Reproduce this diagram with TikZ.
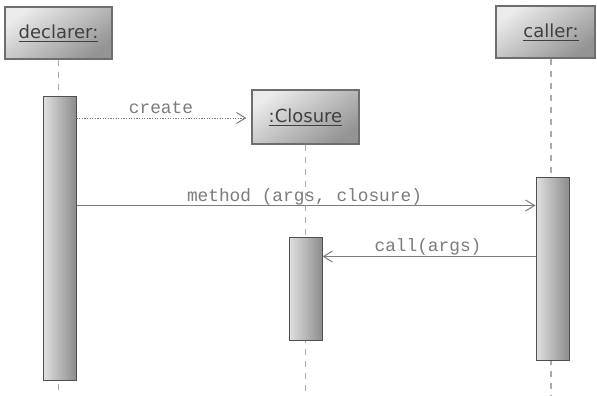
\documentclass[tikz,border=0pt]{standalone}
\usepackage{fontspec}
\setmainfont{DejaVu Sans}
\newfontfamily\msgfont{Liberation Mono}
\usetikzlibrary{arrows.meta}
\definecolor{boxline}{HTML}{6E6E6E}
\definecolor{barline}{HTML}{505050}
\definecolor{lifecol}{HTML}{ABABAB}
\definecolor{msgcol}{HTML}{7C7C7C}
\definecolor{txtcol}{HTML}{404040}
\newcommand{\myul}[1]{\setbox0\hbox{#1}\rlap{\rule[-3.5pt]{\wd0}{1pt}}\box0}
\tikzset{
  objbox/.style={draw=boxline, line width=1.2pt, top color=white!92!black, bottom color=white!58!black,
    shading angle=35, minimum width=107pt, minimum height=52pt, inner sep=0pt,
    font=\fontsize{18}{20}\selectfont, text=txtcol},
  actbar/.style={draw=barline, line width=1pt, left color=white!88!black, right color=white!55!black,
    minimum width=33pt, inner sep=0pt},
  lifeline/.style={draw=lifecol, line width=1.6pt, dash pattern=on 6pt off 6pt},
  msg/.style={draw=msgcol, line width=1pt, -{Straight Barb[length=9pt,width=11pt,line width=1pt]}},
  msglabel/.style={font=\msgfont\fontsize{17.8}{20}\selectfont, text=msgcol, anchor=base, inner sep=0pt}
}
\begin{document}
\begin{tikzpicture}[x=1pt,y=-1pt]
\useasboundingbox[fill=white] (0,0) rectangle (597,396);
% lifeline ends
\coordinate (dend) at (58.5,396);
\coordinate (cend) at (305.5,396);
\coordinate (kend) at (551,396);
% object boxes
\node[objbox] (decl) at (58.5,33) {\myul{declarer:}};
\node[objbox, minimum height=54pt] (clos) at (305.5,117) {\myul{:Closure}};
\node[objbox, minimum width=99pt] (call) at (545.5,32) {\hspace*{11pt}\myul{caller:}};
% lifelines
\draw[lifeline] (decl.south) -- (dend);
\draw[lifeline] (clos.south) -- (cend);
\draw[lifeline] (call.south -| kend) -- (kend);
% activation bars
\node[actbar, minimum height=284pt] (dbar) at (59.5,238) {};
\node[actbar, minimum height=103pt] (cbar) at (305.5,288.5) {};
\node[actbar, minimum height=183pt] (kbar) at (552.5,268.5) {};
% messages
\draw[msg, dash pattern=on 1.2pt off 1.4pt, shorten >=5pt]
  (dbar.east |- 0,118) -- (clos.west |- 0,118);
\node[msglabel] (lcreate) at (161,113) {create};
\draw[msg] (dbar.east |- 0,205.5) -- (kbar.west |- 0,205.5);
\node[msglabel] (lmethod) at (304.5,201) {method (args, closure)};
\draw[msg] (kbar.west |- 0,256.5) -- (cbar.east |- 0,256.5);
\node[msglabel] (lcall) at (428,251) {call(args)};
\end{tikzpicture}
\end{document}
